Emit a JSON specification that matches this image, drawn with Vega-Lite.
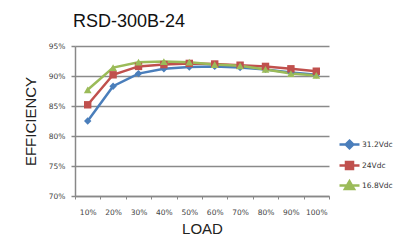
{
  "$schema": "https://vega.github.io/schema/vega-lite/v6.json",
  "width": 254,
  "height": 150,
  "autosize": {"type": "none"},
  "padding": {"left": 75, "top": 46, "right": 80, "bottom": 44},
  "background": "white",
  "title": {"text": "RSD-300B-24", "anchor": "start", "frame": "group", "font": "Liberation Sans", "fontSize": 18, "fontWeight": "normal", "color": "#111", "dx": -2, "offset": 11},
  "data": {"values": [
    {"load": "10%", "s": "31.2Vdc", "e": 82.5},
    {"load": "20%", "s": "31.2Vdc", "e": 88.3},
    {"load": "30%", "s": "31.2Vdc", "e": 90.4},
    {"load": "40%", "s": "31.2Vdc", "e": 91.2},
    {"load": "50%", "s": "31.2Vdc", "e": 91.5},
    {"load": "60%", "s": "31.2Vdc", "e": 91.6},
    {"load": "70%", "s": "31.2Vdc", "e": 91.4},
    {"load": "80%", "s": "31.2Vdc", "e": 91.1},
    {"load": "90%", "s": "31.2Vdc", "e": 90.6},
    {"load": "100%", "s": "31.2Vdc", "e": 90.2},
    {"load": "10%", "s": "24Vdc", "e": 85.2},
    {"load": "20%", "s": "24Vdc", "e": 90.2},
    {"load": "30%", "s": "24Vdc", "e": 91.6},
    {"load": "40%", "s": "24Vdc", "e": 91.9},
    {"load": "50%", "s": "24Vdc", "e": 92.1},
    {"load": "60%", "s": "24Vdc", "e": 92.0},
    {"load": "70%", "s": "24Vdc", "e": 91.8},
    {"load": "80%", "s": "24Vdc", "e": 91.6},
    {"load": "90%", "s": "24Vdc", "e": 91.2},
    {"load": "100%", "s": "24Vdc", "e": 90.8},
    {"load": "10%", "s": "16.8Vdc", "e": 87.7},
    {"load": "20%", "s": "16.8Vdc", "e": 91.4},
    {"load": "30%", "s": "16.8Vdc", "e": 92.3},
    {"load": "40%", "s": "16.8Vdc", "e": 92.4},
    {"load": "50%", "s": "16.8Vdc", "e": 92.3},
    {"load": "60%", "s": "16.8Vdc", "e": 91.9},
    {"load": "70%", "s": "16.8Vdc", "e": 91.7},
    {"load": "80%", "s": "16.8Vdc", "e": 91.1},
    {"load": "90%", "s": "16.8Vdc", "e": 90.4},
    {"load": "100%", "s": "16.8Vdc", "e": 90.1}
  ]},
  "encoding": {
    "x": {"field": "load", "type": "nominal", "sort": null,
      "scale": {"type": "band", "paddingInner": 0, "paddingOuter": 0},
      "axis": {"title": "LOAD", "titleFont": "Liberation Sans", "titleFontSize": 15, "titleFontWeight": "normal", "titleColor": "#222", "titlePadding": 6,
        "labelAngle": 0, "labelFont": "DejaVu Sans", "labelFontSize": 7.5, "labelColor": "#444", "labelPadding": 9,
        "tickBand": "extent", "tickColor": "#888", "tickSize": 3, "tickWidth": 1,
        "domainColor": "#888", "domainWidth": 1.5, "grid": false}},
    "y": {"field": "e", "type": "quantitative",
      "scale": {"domain": [70, 95], "zero": false},
      "axis": {"title": "EFFICIENCY", "titleFont": "Liberation Sans", "titleFontSize": 15, "titleFontWeight": "normal", "titleColor": "#222", "titleX": -45, "titleY": 75, "titleAlign": "center", "titleBaseline": "middle", "titleAngle": -90,
        "values": [70, 75, 80, 85, 90, 95], "labelExpr": "datum.value + '%'",
        "labelFont": "DejaVu Sans", "labelFontSize": 7.5, "labelColor": "#444", "labelPadding": 6,
        "tickColor": "#888", "tickSize": 4, "tickWidth": 1.5,
        "domainColor": "#888", "domainWidth": 1.5,
        "grid": true, "gridColor": "#8a8a8a", "gridWidth": 1.5}},
    "color": {"field": "s", "type": "nominal",
      "scale": {"domain": ["31.2Vdc", "24Vdc", "16.8Vdc"], "range": ["#4a7ebb", "#c0504d", "#9bbb59"]},
      "legend": {"title": null, "orient": "none", "legendX": 263, "legendY": 87, "symbolSize": 400, "labelFont": "DejaVu Sans", "labelFontSize": 7.5, "labelColor": "#333", "rowPadding": -4.5, "labelOffset": 1,
        "encode": {"symbols": {"update": {
          "shape": {"signal": "datum.value === '31.2Vdc' ? 'M-1,0H1M0,-0.38L0.38,0L0,0.38L-0.38,0Z' : datum.value === '24Vdc' ? 'M-1,0H1M-0.35,-0.35H0.35V0.35H-0.35Z' : 'M-1,0H1M-0.45,0.35L0,-0.42L0.45,0.35Z'"},
          "fill": {"scale": "color", "field": "value"},
          "stroke": {"scale": "color", "field": "value"},
          "strokeWidth": {"value": 2.5},
          "opacity": {"value": 1},
          "fillOpacity": {"value": 1},
          "strokeOpacity": {"value": 1}}}}}}
  },
  "layer": [
    {"mark": {"type": "line", "strokeWidth": 2.5}},
    {"transform": [{"filter": "datum.s === '31.2Vdc'"}], "mark": {"type": "point", "shape": "diamond", "filled": true, "opacity": 1, "size": 55}},
    {"transform": [{"filter": "datum.s === '24Vdc'"}], "mark": {"type": "point", "shape": "square", "filled": true, "opacity": 1, "size": 55}},
    {"transform": [{"filter": "datum.s === '16.8Vdc'"}], "mark": {"type": "point", "shape": "triangle-up", "filled": true, "opacity": 1, "size": 60}}
  ],
  "config": {"view": {"stroke": null}}
}
